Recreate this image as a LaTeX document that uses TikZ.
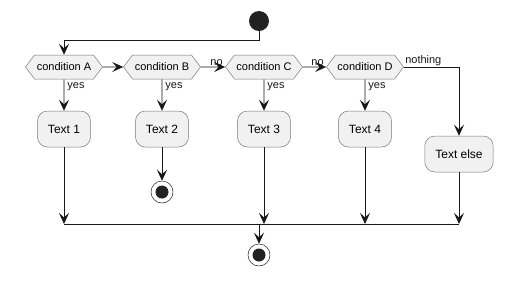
\documentclass[tikz,border=0pt]{standalone}
\usepackage{fontspec}
\setmainfont{Liberation Sans}
\usepackage{xcolor}
\usepackage{tikz}
\usetikzlibrary{arrows.meta,positioning,shapes.symbols}
\definecolor{boxfill}{HTML}{F1F1F1}
\definecolor{boxline}{HTML}{777777}
\definecolor{ink}{HTML}{181818}
\definecolor{dot}{HTML}{222222}

\begin{document}
\begin{tikzpicture}[
  x=1pt, y=-1pt,
  font=\fontsize{11}{13}\selectfont,
  cond/.style={signal, signal to=east and west, signal pointer angle=106,
               draw=boxline, fill=boxfill, line width=0.5pt,
               minimum width=77pt, minimum height=24pt, inner xsep=2pt, inner ysep=0pt},
  act/.style={draw=boxline, fill=boxfill, line width=0.5pt, rounded corners=10pt,
              minimum height=36pt, inner xsep=10.5pt, font=\fontsize{12}{14}\selectfont},
  startnode/.style={circle, fill=dot, minimum size=20pt, inner sep=0pt},
  stopnode/.style={circle, draw=dot, fill=white, line width=0.5pt, minimum size=22pt, inner sep=0pt,
                   path picture={\fill[dot] (path picture bounding box.center) circle (6.5pt);}},
  arr/.style={-{Stealth[length=11pt, width=10pt, inset=4.5pt]}, draw=ink, line width=0.8pt},
  lbl/.style={inner sep=1pt, text=ink}]
\useasboundingbox (0,0) rectangle (512,285);
\node[startnode] (start) at (259,21) {};
\node[cond] (ca) at (64,67) {condition A};
\node[cond] (cb) at (162,67) {condition B};
\node[cond] (cc) at (264,67) {condition C};
\node[cond] (cd) at (365,67) {condition D};
\node[act] (t1) at (64,129) {Text 1};
\node[act] (t2) at (162,129) {Text 2};
\node[act] (t3) at (264,129) {Text 3};
\node[act] (t4) at (365,129) {Text 4};
\node[act] (te) at (459,154) {Text else};
\node[stopnode] (s2) at (162,192) {};
\node[stopnode] (stop) at (259,255) {};
\coordinate (j0) at (259,40);
\coordinate (m1) at (64,224);
\coordinate (m3) at (264,224);
\coordinate (m4) at (365,224);
\coordinate (me) at (459,224);
\coordinate (mj) at (259,224);
% flow
\draw[arr] (start) -- (j0) -| (ca);
\draw[arr] (ca) -- (cb);
\draw[arr] (cb) -- (cc) node[lbl, pos=1, anchor=south east, xshift=-1pt] {no};
\draw[arr] (cc) -- (cd) node[lbl, pos=1, anchor=south east, xshift=-1pt] {no};
\draw[arr] (cd.east) -| (te) node[lbl, pos=0, anchor=south west, xshift=0pt] {nothing};
\foreach \x/\y in {ca/t1,cb/t2,cc/t3,cd/t4}
  \draw[arr] (\x) -- (\y) node[lbl, pos=0, anchor=north west, xshift=2pt, yshift=-2pt] {yes};
\draw[arr] (t2) -- (s2);
\foreach \x/\y in {t1/m1,t3/m3,t4/m4,te/me} \draw[arr] (\x) -- (\y);
\draw[draw=ink, line width=0.8pt] (m1) -- (me);
\draw[arr] (mj) -- (stop);
\end{tikzpicture}
\end{document}
